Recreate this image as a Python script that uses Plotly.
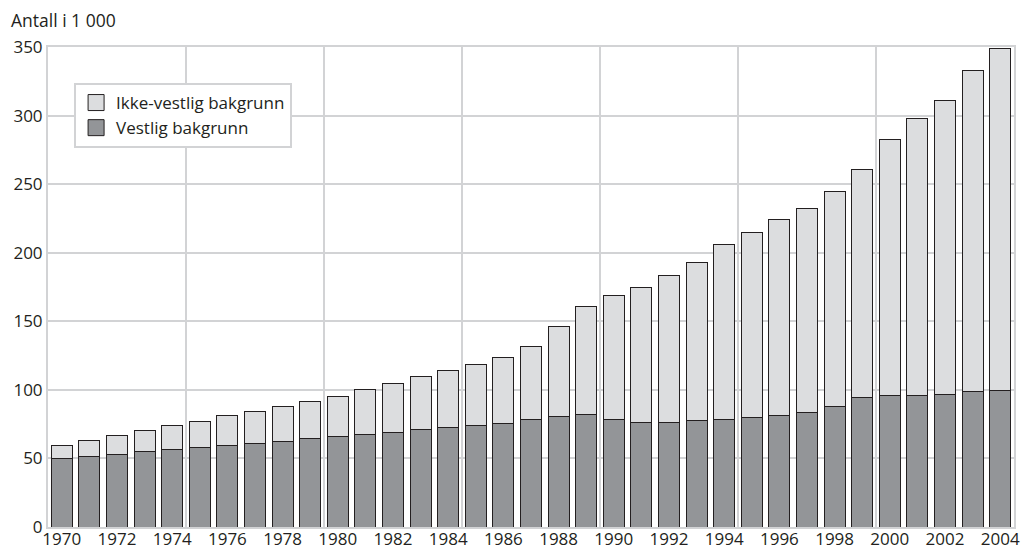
import plotly.graph_objects as go

years = list(range(1970, 2005))
vestlig = [50.3, 51.5, 53.2, 54.7, 56.4, 58.0, 59.5, 61.2, 62.7, 64.4,
           66.1, 67.8, 69.2, 70.9, 72.6, 74.3, 75.8, 78.2, 80.9, 81.8,
           78.2, 76.2, 76.5, 77.5, 78.2, 79.9, 81.3, 83.3, 88.1, 94.2,
           96.1, 96.1, 96.9, 99.0, 99.8]
totalt = [59.3, 62.9, 66.5, 70.2, 73.8, 77.2, 81.1, 84.5, 88.1, 91.8,
          95.4, 100.0, 104.6, 109.5, 114.1, 118.7, 123.5, 131.3, 146.3, 160.6,
          168.6, 174.9, 183.1, 193.1, 205.7, 215.1, 223.9, 232.1, 244.7, 260.7,
          282.3, 297.8, 310.9, 332.7, 348.7]
ikke_vestlig = [round(t - v, 1) for t, v in zip(totalt, vestlig)]
xticks = list(range(1970, 2005, 2))
series_names = ["Vestlig bakgrunn", "Ikke-vestlig bakgrunn"]

GRID = "#d2d3d5"
TXT = "#231f20"
DARK = "#939598"
LIGHT = "#dcdddf"
FONT = "Open Sans"

fig = go.Figure()
fig.add_trace(go.Bar(x=years, y=vestlig, name=series_names[0], showlegend=False,
                     marker=dict(color=DARK, line=dict(color=TXT, width=1)),
                     width=0.76))
fig.add_trace(go.Bar(x=years, y=ikke_vestlig, name=series_names[1], showlegend=False,
                     marker=dict(color=LIGHT, line=dict(color=TXT, width=1)),
                     width=0.76))
# legend entries (bigger square swatches)
for nm, col, grp in [(series_names[1], LIGHT, "a"), (series_names[0], DARK, "b")]:
    fig.add_trace(go.Scatter(x=[None], y=[None], mode="markers", name=nm,
                             legendgroup=grp,
                             marker=dict(symbol="square", size=16, color=col,
                                         line=dict(color=TXT, width=1))))

fig.update_layout(
    barmode="stack",
    width=1022, height=542,
    margin=dict(l=40, r=16, t=39, b=23),
    plot_bgcolor="white", paper_bgcolor="white",
    font=dict(family=FONT, size=17, color=TXT),
    legend=dict(traceorder="normal", x=0.027, y=0.925, xanchor="left", yanchor="top",
                bordercolor=GRID, borderwidth=2, bgcolor="white",
                tracegroupgap=4, itemsizing="trace",
                font=dict(size=17, color=TXT)),
    xaxis=dict(range=[1969.5, 2004.5], tickvals=xticks, ticktext=[str(y) for y in xticks],
               showgrid=False, ticks="", showline=True, mirror=True, automargin=False,
               linecolor=GRID, linewidth=2, tickfont=dict(size=17),
               ticklabelstandoff=-4,
               minor=dict(tick0=1969.5, dtick=5, showgrid=True, gridcolor=GRID, gridwidth=2)),
    yaxis=dict(range=[0, 350], dtick=50, showgrid=True, gridcolor=GRID, gridwidth=2,
               showline=True, mirror=True, linecolor=GRID, linewidth=2, automargin=False,
               zeroline=False, ticks="", tickfont=dict(size=17)),
    annotations=[dict(text="Antall i 1 000", xref="paper", yref="paper",
                      x=-39/966, y=1 + 27/480, xanchor="left", yanchor="middle",
                      showarrow=False, font=dict(size=17.5, color=TXT))],
)

fig.write_html("out.html")
